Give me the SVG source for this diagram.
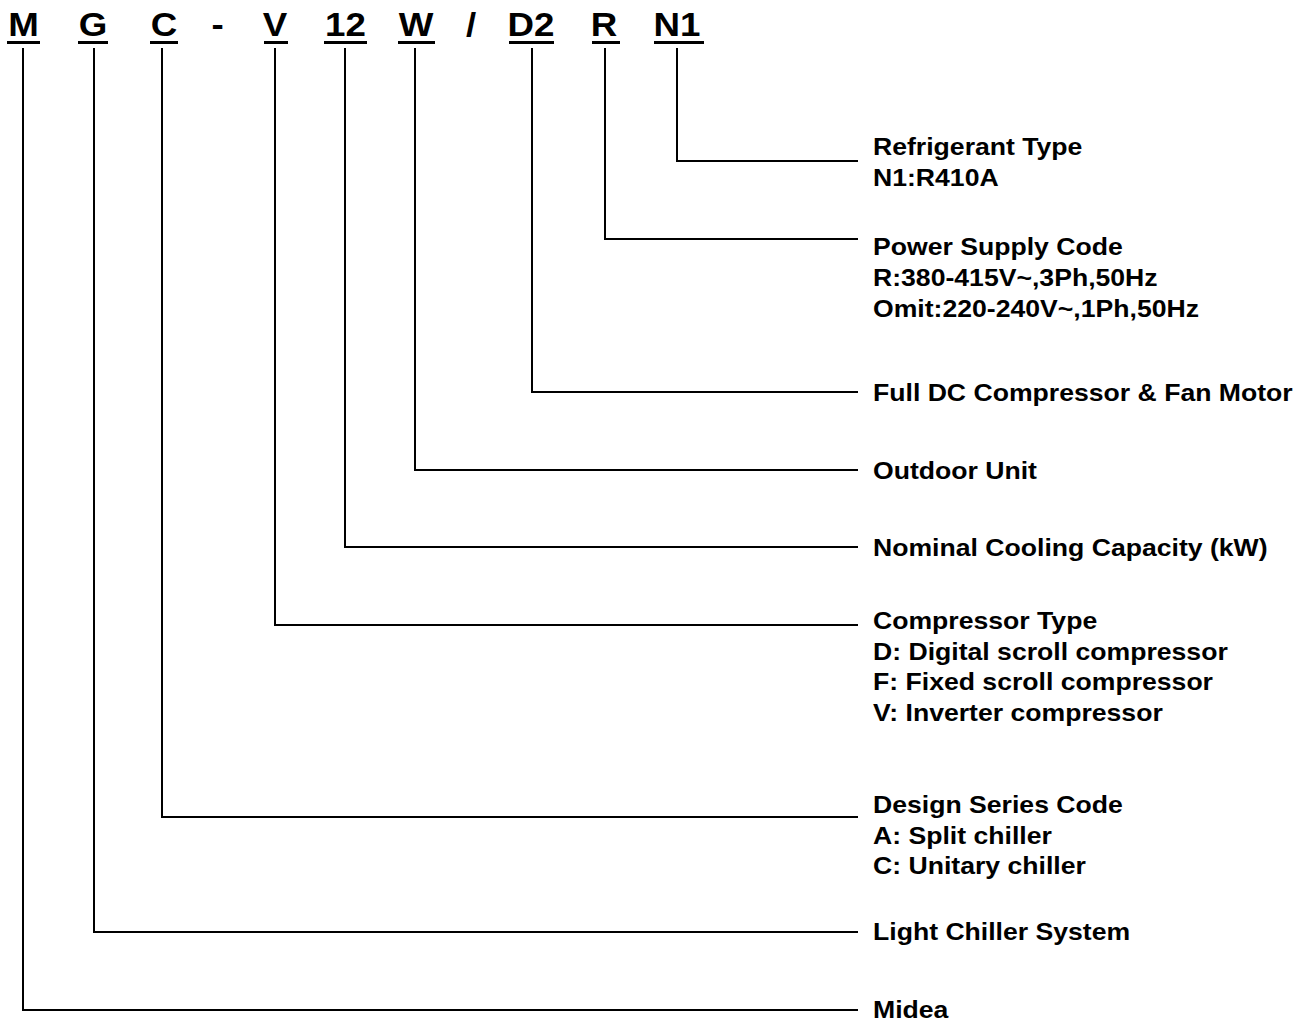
<svg xmlns="http://www.w3.org/2000/svg" width="1309" height="1025" viewBox="0 0 1309 1025">
<style>
.code{font-family:"Liberation Sans",Arial,sans-serif;font-weight:bold;font-size:34px;fill:#000;text-anchor:middle}
.lbl{font-family:"Liberation Sans",Arial,sans-serif;font-weight:bold;font-size:23px;fill:#000}
.ul{fill:#000}
.conn{fill:none;stroke:#000;stroke-width:2}
</style>
<rect width="1309" height="1025" fill="#fff"/>
<g id="code">
<text class="code" transform="translate(23.5 36) scale(1.08 1)">M</text>
<text class="code" transform="translate(93 36) scale(1.08 1)">G</text>
<text class="code" transform="translate(164 36) scale(1.08 1)">C</text>
<text class="code" transform="translate(217.5 36) scale(1.08 1)">-</text>
<text class="code" transform="translate(275 36) scale(1.08 1)">V</text>
<text class="code" transform="translate(345.5 36) scale(1.08 1)">12</text>
<text class="code" transform="translate(416 36) scale(1.08 1)">W</text>
<text class="code" transform="translate(471 36) scale(1.08 1)">/</text>
<text class="code" transform="translate(531 36) scale(1.08 1)">D2</text>
<text class="code" transform="translate(604 36) scale(1.08 1)">R</text>
<text class="code" transform="translate(677 36) scale(1.08 1)">N1</text>
<rect class="ul" x="7" y="41" width="33" height="3"/>
<rect class="ul" x="78" y="41" width="30" height="3"/>
<rect class="ul" x="150" y="41" width="28" height="3"/>
<rect class="ul" x="264" y="41" width="24" height="3"/>
<rect class="ul" x="324" y="41" width="43" height="3"/>
<rect class="ul" x="398" y="41" width="37" height="3"/>
<rect class="ul" x="509" y="41" width="45" height="3"/>
<rect class="ul" x="592" y="41" width="28" height="3"/>
<rect class="ul" x="654" y="41" width="50" height="3"/>
</g>
<g id="connectors">
<path class="conn" d="M677 48 V161 H858"/>
<path class="conn" d="M605 48 V239 H858"/>
<path class="conn" d="M532 48 V392 H858"/>
<path class="conn" d="M415 48 V470 H858"/>
<path class="conn" d="M345 48 V547 H858"/>
<path class="conn" d="M275 48 V625 H858"/>
<path class="conn" d="M162 48 V817 H858"/>
<path class="conn" d="M94 48 V932 H858"/>
<path class="conn" d="M23 48 V1010 H858"/>
</g>
<g id="labels" transform="translate(873 0) scale(1.157 1)">
<g id="n-refrigerant"><text class="lbl" y="155">Refrigerant Type</text><text class="lbl" y="186">N1:R410A</text></g>
<g id="n-power"><text class="lbl" y="255">Power Supply Code</text><text class="lbl" y="286">R:380-415V~,3Ph,50Hz</text><text class="lbl" y="317">Omit:220-240V~,1Ph,50Hz</text></g>
<g id="n-dc"><text class="lbl" y="401">Full DC Compressor &amp; Fan Motor</text></g>
<g id="n-outdoor"><text class="lbl" y="479">Outdoor Unit</text></g>
<g id="n-capacity"><text class="lbl" y="556">Nominal Cooling Capacity (kW)</text></g>
<g id="n-compressor"><text class="lbl" y="629">Compressor Type</text><text class="lbl" y="660">D: Digital scroll compressor</text><text class="lbl" y="690">F: Fixed scroll compressor</text><text class="lbl" y="721">V: Inverter compressor</text></g>
<g id="n-design"><text class="lbl" y="813">Design Series Code</text><text class="lbl" y="844">A: Split chiller</text><text class="lbl" y="874">C: Unitary chiller</text></g>
<g id="n-light"><text class="lbl" y="940">Light Chiller System</text></g>
<g id="n-midea"><text class="lbl" y="1018">Midea</text></g>
</g>
</svg>
